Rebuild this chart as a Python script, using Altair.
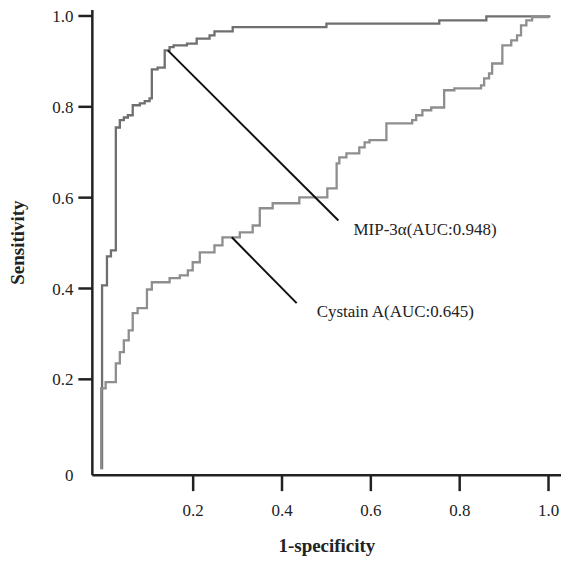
import altair as alt
import pandas as pd

# ROC curve vertices (1-specificity, sensitivity)
mip_fpr = [-0.004, -0.004, 0.007, 0.016, 0.027, 0.036, 0.045, 0.054, 0.065, 0.081, 0.092, 0.103,
           0.108, 0.121, 0.137, 0.148, 0.157, 0.187, 0.209, 0.238, 0.249, 0.290, 0.501, 0.755,
           0.861, 1.005]
mip_tpr = [0.0, 0.405, 0.469, 0.482, 0.753, 0.769, 0.775, 0.780, 0.802, 0.806, 0.811, 0.817,
           0.881, 0.885, 0.923, 0.930, 0.934, 0.938, 0.949, 0.956, 0.965, 0.974, 0.982, 0.989,
           0.998, 0.998]

cys_fpr = [-0.006, -0.006, 0.004, 0.027, 0.036, 0.045, 0.056, 0.065, 0.076, 0.097, 0.108, 0.148,
           0.171, 0.189, 0.200, 0.216, 0.249, 0.267, 0.306, 0.335, 0.351, 0.380, 0.440, 0.503,
           0.524, 0.530, 0.546, 0.575, 0.587, 0.598, 0.636, 0.694, 0.703, 0.717, 0.737, 0.766,
           0.789, 0.849, 0.856, 0.867, 0.874, 0.897, 0.917, 0.930, 0.939, 0.951, 0.964, 1.0]
cys_tpr = [0.0, 0.178, 0.192, 0.233, 0.258, 0.284, 0.306, 0.344, 0.355, 0.396, 0.412, 0.421,
           0.427, 0.438, 0.456, 0.478, 0.493, 0.511, 0.522, 0.537, 0.575, 0.586, 0.599, 0.619,
           0.674, 0.687, 0.696, 0.709, 0.720, 0.725, 0.762, 0.769, 0.780, 0.791, 0.797, 0.835,
           0.839, 0.846, 0.861, 0.872, 0.894, 0.934, 0.945, 0.956, 0.978, 0.989, 0.996, 0.998]

series_names = ["MIP-3α", "Cystain A"]
series_colors = ["#6f6f6f", "#8e8e8e"]

# Annotation leader lines and labels
ann_labels = ["MIP-3α(AUC:0.948)", "Cystain A(AUC:0.645)"]
ann_x1 = [0.144, 0.288]
ann_y1 = [0.923, 0.511]
ann_x2 = [0.528, 0.434]
ann_y2 = [0.548, 0.366]
ann_tx = [0.562, 0.479]
ann_ty = [0.515, 0.335]

x_ticks = [0.2, 0.4, 0.6, 0.8, 1.0]
y_ticks = [0, 0.2, 0.4, 0.6, 0.8, 1.0]

rows = []
for name, xs, ys in [(series_names[0], mip_fpr, mip_tpr), (series_names[1], cys_fpr, cys_tpr)]:
    for i, (a, b) in enumerate(zip(xs, ys)):
        rows.append({"series": name, "fpr": a, "tpr": b, "idx": i})
curves = pd.DataFrame(rows)
ann = pd.DataFrame({"label": ann_labels, "x1": ann_x1, "y1": ann_y1, "x2": ann_x2,
                    "y2": ann_y2, "tx": ann_tx, "ty": ann_ty})

FONT = "Liberation Serif"
xscale = alt.Scale(domain=[-0.027, 1.029], nice=False, zero=False)
yscale = alt.Scale(domain=[-0.012, 1.013], nice=False, zero=False)

xaxis = alt.Axis(values=x_ticks, format=".1f", title="1-specificity", grid=False,
                 domainColor="#222", domainWidth=2.5, tickColor="#222", tickWidth=2.5,
                 tickSize=16, labelPadding=12, labelFont=FONT, labelFontSize=17,
                 labelColor="#222", titleFont=FONT, titleFontSize=19, titleFontWeight="bold",
                 titleColor="#222", titlePadding=18)
yaxis = alt.Axis(values=y_ticks, labelExpr="datum.value == 0 ? '0' : format(datum.value, '.1f')",
                 title="Sensitivity", grid=False,
                 domainColor="#222", domainWidth=2.5, tickColor="#222", tickWidth=2.5,
                 tickSize=14, labelPadding=5, labelFont=FONT, labelFontSize=17,
                 labelColor="#222", titleFont=FONT, titleFontSize=19, titleFontWeight="bold",
                 titleColor="#222", titlePadding=24,
                 tickOpacity={"condition": {"test": "datum.value === 0", "value": 0}, "value": 1},
                 labelOffset={"condition": {"test": "datum.value === 0", "value": 6}, "value": 1.5})

lines = alt.Chart(curves).mark_line(interpolate="step-after", strokeWidth=2.3).encode(
    x=alt.X("fpr:Q", scale=xscale, axis=xaxis),
    y=alt.Y("tpr:Q", scale=yscale, axis=yaxis),
    color=alt.Color("series:N", scale=alt.Scale(domain=series_names, range=series_colors), legend=None),
    order=alt.Order("idx:Q"),
)

leaders = alt.Chart(ann).mark_rule(color="#111", strokeWidth=2).encode(
    x="x1:Q", y="y1:Q", x2="x2:Q", y2="y2:Q")

texts = alt.Chart(ann).mark_text(align="left", baseline="alphabetic", font=FONT,
                                 fontSize=17, color="#222").encode(
    x="tx:Q", y="ty:Q", text="label:N")

chart = alt.layer(lines, leaders, texts).properties(
    width=470, height=466,
    autosize=alt.AutoSizeParams(type="none"),
    padding={"left": 84, "top": 1, "right": 0, "bottom": 82},
).configure_view(stroke=None)

chart.save("out.html", embed_options={"renderer": "svg", "actions": False})
